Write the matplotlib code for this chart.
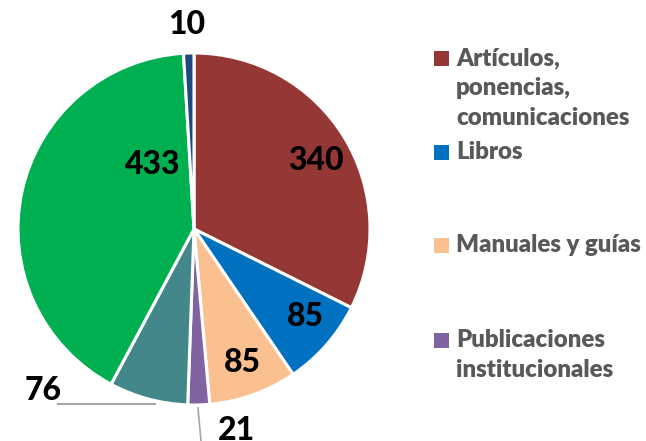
import numpy as np
import matplotlib
matplotlib.use("Agg")
import matplotlib.pyplot as plt
from matplotlib.patches import Rectangle

categories = ["Artículos,\nponencias,\ncomunicaciones", "Libros", "Manuales y guías",
              "Publicaciones\ninstitucionales", "Otros A", "Otros B", "Otros C"]
values = [340, 85, 85, 21, 76, 433, 10]
colors = ["#953735", "#0070C0", "#FAC090", "#8064A2", "#43878A", "#00B050", "#1F497D"]
legend_shown = [0, 1, 2, 3]

FONT = ['Lato', 'DejaVu Sans']

W, H = 646, 441
fig = plt.figure(figsize=(W / 100, H / 100), dpi=100)
ax = fig.add_axes([0, 0, 1, 1])
ax.set_aspect('equal')
ax.axis('off')

cx, cy, R = 194, H - 229, 176
explode = [0, 0, 0, 0, 0, 0, 0.03]
wedges, _ = ax.pie(values, colors=colors, startangle=90, counterclock=False,
                   center=(cx, cy), radius=R, explode=explode,
                   wedgeprops=dict(edgecolor='white', linewidth=2.2))
ax.set_xlim(0, W)
ax.set_ylim(0, H)

# label positions in pixels from top-left (visual centre)
label_pos = [(316, 158), (305, 313), (242, 359), (236, 428), (43, 388), (153, 162), (187, 22)]
lab_font = dict(fontsize=23, fontweight=900, family=FONT, color='black', ha='center', va='center')
for v, (x, y) in zip(values, label_pos):
    ax.text(x, H - y - 3, str(v), **lab_font)
ax.plot([58, 155], [H - 404, H - 404], color='#A6A6A6', lw=1.5)
ax.plot([198, 201], [H - 408, H - 441], color='#A6A6A6', lw=1.2)

leg_y = [58, 152, 245, 340]
for k, i in enumerate(legend_shown):
    y = H - leg_y[k]
    ax.add_patch(Rectangle((434, y - 8), 15, 15, facecolor=colors[i], edgecolor='none'))
    for j, line in enumerate(categories[i].split('\n')):
        ax.text(456, y - j * 30, line, fontsize=17.3, fontweight=800, family=FONT,
                color='#595959', ha='left', va='center')

fig.savefig("out.png", dpi=100)
